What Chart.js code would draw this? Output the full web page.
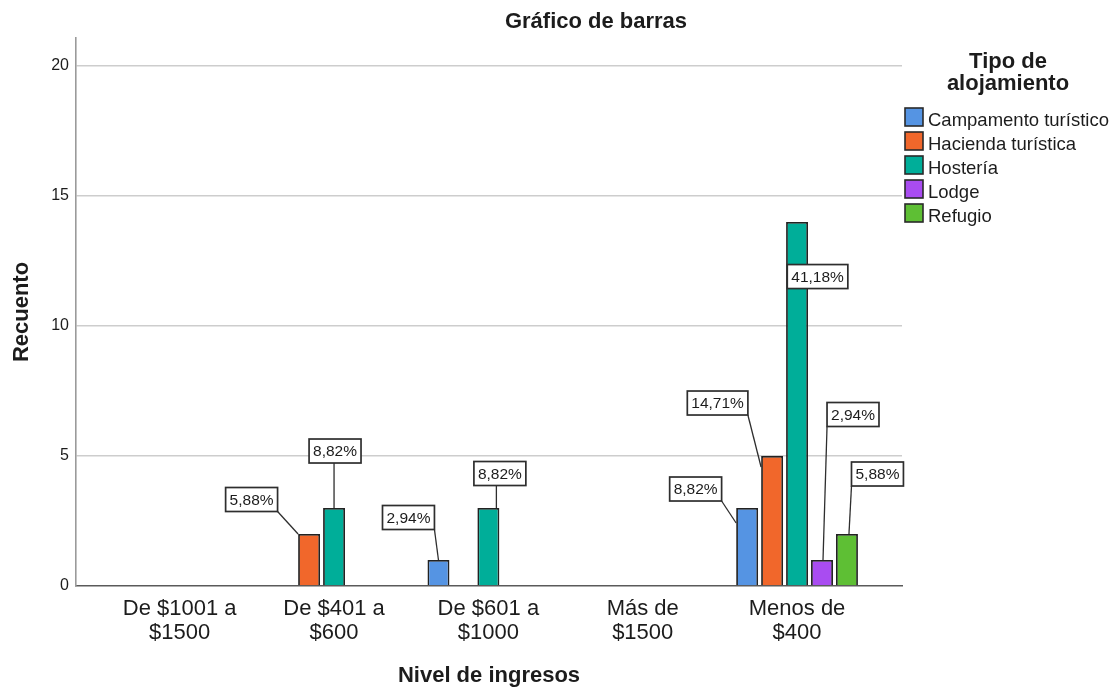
<!DOCTYPE html>
<html>
<head>
<meta charset="utf-8">
<script src="https://cdn.jsdelivr.net/npm/chart.js@4"></script>
<style>
  html, body { margin: 0; padding: 0; background: #ffffff; }
  #wrap { width: 1116px; height: 690px; position: relative; }
</style>
</head>
<body>
<div id="wrap"><canvas id="chart" width="1116" height="690"></canvas></div>
<script>
// Income levels (x categories) and their two-line tick labels
const incomeLevels = ['De $1001 a $1500', 'De $401 a $600', 'De $601 a $1000', 'Más de $1500', 'Menos de $400'];
const incomeTickLines = [['De $1001 a', '$1500'], ['De $401 a', '$600'], ['De $601 a', '$1000'], ['Más de', '$1500'], ['Menos de', '$400']];

// Accommodation types (series)
const accommodationTypes = ['Campamento turístico', 'Hacienda turística', 'Hostería', 'Lodge', 'Refugio'];

// Counts per income level for each accommodation type
const campamentoCounts = [null, null, 1, null, 3];
const haciendaCounts   = [null, 2, null, null, 5];
const hosteriaCounts   = [null, 3, 3, null, 14];
const lodgeCounts      = [null, null, null, null, 1];
const refugioCounts    = [null, null, null, null, 2];

// Y axis ticks
const countTicks = [0, 5, 10, 15, 20];

const seriesCounts = [campamentoCounts, haciendaCounts, hosteriaCounts, lodgeCounts, refugioCounts];
const seriesColors = ['#5594e3', '#f1672b', '#00ae99', '#a94cf1', '#5ebf34'];

const FONT = "'Liberation Sans', Arial, Helvetica, sans-serif";
const INK = '#1c1c1c';

// Total respondents, used for the percentage labels
const totalCount = seriesCounts.flat().reduce((s, v) => s + (v || 0), 0);

// Placement of each percentage callout relative to its bar's top centre:
// box = offset of the label box centre, tip = point on the bar the leader line reaches
const calloutPlacement = {
  '1,1': { box: [-57.5, -34.5], tip: [-11, 0] },
  '2,1': { box: [1, -57], tip: [0, 0] },
  '0,2': { box: [-30, -42.5], tip: [0, 0] },
  '2,2': { box: [11.5, -34.5], tip: [8, 0] },
  '0,4': { box: [-51.5, -19], tip: [-11, 15] },
  '1,4': { box: [-54.5, -53], tip: [-11, 11] },
  '2,4': { box: [20.5, 54.5], tip: null },
  '3,4': { box: [31, -145.5], tip: [1, 0] },
  '4,4': { box: [30.5, -60], tip: [2, 0] }
};

const percentText = v => (v / totalCount * 100).toFixed(2).replace('.', ',') + '%';

// Percentage callouts with leader lines
const calloutPlugin = {
  id: 'callouts',
  afterDatasetsDraw(chart) {
    const ctx = chart.ctx;
    ctx.save();
    ctx.font = '15.5px ' + FONT;
    chart.data.datasets.forEach((ds, di) => {
      const meta = chart.getDatasetMeta(di);
      ds.data.forEach((pt, i) => {
        if (pt.y === null || pt.y === undefined) return;
        const place = calloutPlacement[di + ',' + i];
        if (!place) return;
        const el = meta.data[i];
        const bx = el.x, by = el.y;
        const text = percentText(pt.y);
        const tw = ctx.measureText(text).width;
        const w = tw + 8, h = 24;
        const cx = bx + place.box[0], cy = by + place.box[1];
        const left = cx - w / 2, top = cy - h / 2;
        if (place.tip) {
          const tx = bx + place.tip[0], ty = by + place.tip[1];
          const sx = Math.min(Math.max(tx, left), left + w);
          const sy = Math.min(Math.max(ty, top), top + h);
          ctx.beginPath();
          ctx.moveTo(sx, sy);
          ctx.lineTo(tx, ty);
          ctx.strokeStyle = '#2e2e2e';
          ctx.lineWidth = 1.3;
          ctx.stroke();
        }
        ctx.fillStyle = '#ffffff';
        ctx.fillRect(left, top, w, h);
        ctx.strokeStyle = '#2e2e2e';
        ctx.lineWidth = 1.7;
        ctx.strokeRect(left, top, w, h);
        ctx.fillStyle = INK;
        ctx.textAlign = 'center';
        ctx.textBaseline = 'middle';
        ctx.fillText(text, cx, cy + 1);
      });
    });
    ctx.restore();
  }
};

// Chart title and the legend on the right
const frameTextPlugin = {
  id: 'frameText',
  afterDraw(chart) {
    const ctx = chart.ctx;
    ctx.save();
    ctx.fillStyle = INK;
    ctx.textAlign = 'center';
    ctx.textBaseline = 'alphabetic';
    ctx.font = 'bold 22px ' + FONT;
    ctx.fillText('Gráfico de barras', 596, 28);

    ctx.fillText('Tipo de', 1008, 68);
    ctx.fillText('alojamiento', 1008, 90);

    ctx.textAlign = 'left';
    ctx.font = '18.5px ' + FONT;
    chart.data.datasets.forEach((ds, i) => {
      const top = 108 + i * 24;
      ctx.fillStyle = ds.backgroundColor;
      ctx.fillRect(905, top, 18, 18);
      ctx.strokeStyle = '#2a2a2a';
      ctx.lineWidth = 1.6;
      ctx.strokeRect(905, top, 18, 18);
      ctx.fillStyle = INK;
      ctx.fillText(ds.label, 928, top + 17.5);
    });
    ctx.restore();
  }
};

const datasets = accommodationTypes.map((name, k) => ({
  label: name,
  data: seriesCounts[k].map((v, i) => ({ x: i, y: v })),
  backgroundColor: seriesColors[k],
  borderColor: '#222222',
  borderWidth: 1.8,
  categoryPercentage: 0.8085,
  barPercentage: 0.88
}));

new Chart(document.getElementById('chart'), {
  type: 'bar',
  data: { datasets },
  plugins: [calloutPlugin, frameTextPlugin],
  options: {
    responsive: false,
    animation: false,
    devicePixelRatio: 1,
    layout: { padding: { left: 0, right: 214, top: 38, bottom: 0 } },
    plugins: {
      legend: { display: false },
      title: { display: false },
      tooltip: { enabled: false }
    },
    scales: {
      x: {
        type: 'linear',
        offset: false,
        min: -0.672,
        max: 4.68,
        afterBuildTicks: s => { s.ticks = incomeLevels.map((_, i) => ({ value: i })); },
        afterFit: s => { s.height = 104; },
        grid: { display: false },
        border: { display: true, color: '#5a5a5a', width: 1.6 },
        ticks: {
          autoSkip: false,
          maxRotation: 0,
          padding: 3,
          color: INK,
          font: { family: FONT, size: 22, lineHeight: 1.1 },
          callback: v => incomeTickLines[v] || ''
        },
        title: {
          display: true,
          text: 'Nivel de ingresos',
          color: INK,
          font: { family: FONT, size: 22, weight: 'bold' },
          padding: { top: 0, bottom: 1 }
        }
      },
      y: {
        min: 0,
        max: 21.08,
        afterBuildTicks: s => { s.ticks = countTicks.map(v => ({ value: v })); },
        afterFit: s => { s.width = 76; },
        grid: {
          drawTicks: false,
          color: c => (c.tick && c.tick.value === 0) ? 'rgba(0,0,0,0)' : '#cdcdcd',
          lineWidth: 1.5
        },
        border: { display: true, color: '#9a9a9a', width: 1.6 },
        ticks: {
          padding: 7,
          color: INK,
          font: { family: FONT, size: 16 }
        },
        title: {
          display: true,
          text: 'Recuento',
          color: INK,
          font: { family: FONT, size: 22, weight: 'bold' },
          padding: { top: 9, bottom: 0 }
        }
      }
    }
  }
});
</script>
</body>
</html>
